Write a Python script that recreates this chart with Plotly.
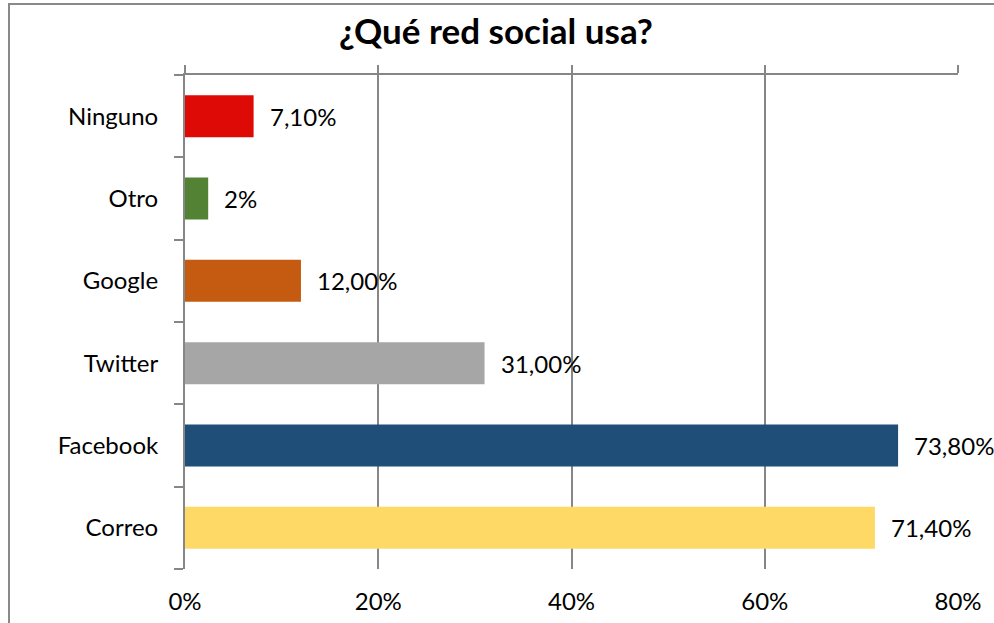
import plotly.graph_objects as go

categories = ["Correo", "Facebook", "Twitter", "Google", "Otro", "Ninguno"]
values = [71.4, 73.8, 31.0, 12.0, 2.4, 7.1]
value_labels = ["71,40%", "73,80%", "31,00%", "12,00%", "2%", "7,10%"]
bar_colors = ["#FFD966", "#1F4E79", "#A6A6A6", "#C55A11", "#548235", "#DE0A06"]
x_tick_values = [0, 20, 40, 60, 80]
x_tick_labels = ["0%", "20%", "40%", "60%", "80%"]

FONT = "Lato, 'Open Sans', sans-serif"
GRID = "#868686"

W, H = 994, 623
L, R, T, B = 185, 36, 75, 54
pw, ph = W - L - R, H - T - B


def px_to_paper(x, y):
    return (x - L) / pw, (H - B - y) / ph


fig = go.Figure()
fig.add_trace(go.Bar(
    y=categories, x=values, orientation="h",
    marker=dict(color=bar_colors, line=dict(width=0)),
    hoverinfo="skip", showlegend=False,
))
# invisible trace to anchor the top axis
fig.add_trace(go.Scatter(x=[0], y=[categories[0]], xaxis="x2", mode="markers",
                         marker=dict(opacity=0), hoverinfo="skip", showlegend=False))

annotations = []
for c, v, t in zip(categories, values, value_labels):
    annotations.append(dict(x=v, y=c, xref="x", yref="y", text=t, showarrow=False,
                            xanchor="left", yanchor="middle", xshift=14, yshift=0,
                            font=dict(family=FONT, size=24, color="#000000")))

x0, y0 = px_to_paper(9, 4)
x1, y1 = px_to_paper(1010, 640)

fig.update_layout(
    width=W, height=H,
    margin=dict(l=L, r=R, t=T, b=B, autoexpand=False),
    paper_bgcolor="white", plot_bgcolor="white",
    bargap=0.49,
    title=dict(text="<b>¿Qué red social usa?</b>", x=496 / W, xanchor="center",
               y=1 - 32 / H, yanchor="middle", xref="container", yref="container",
               font=dict(family=FONT, size=35, color="#000000")),
    xaxis=dict(range=[0, 80], tickvals=x_tick_values, ticktext=x_tick_labels,
               showgrid=True, gridcolor=GRID, gridwidth=2, zeroline=False,
               showline=False, ticks="", ticklabelstandoff=16,
               tickfont=dict(family=FONT, size=24, color="#000000"), fixedrange=True),
    xaxis2=dict(range=[0, 80], overlaying="x", side="top", anchor="y",
                tickvals=x_tick_values, showticklabels=False, showgrid=False,
                zeroline=False, showline=True, linecolor=GRID, linewidth=2,
                ticks="outside", ticklen=8, tickwidth=2, tickcolor=GRID),
    yaxis=dict(categoryorder="array", categoryarray=categories,
               showline=True, linecolor=GRID, linewidth=2, showgrid=False,
               zeroline=False, ticks="outside", tickson="boundaries", ticklen=9,
               tickwidth=2, tickcolor=GRID, ticklabelstandoff=20,
               tickfont=dict(family=FONT, size=24, color="#000000")),
    annotations=annotations,
    shapes=[dict(type="rect", xref="paper", yref="paper", x0=x0, y0=y1, x1=x1, y1=y0,
                 line=dict(color="#898989", width=2), fillcolor="rgba(0,0,0,0)",
                 layer="below")],
)

fig.write_html("out.html", config={"displayModeBar": False},
               post_script="document.body.style.margin='0';document.body.style.overflow='hidden';")
